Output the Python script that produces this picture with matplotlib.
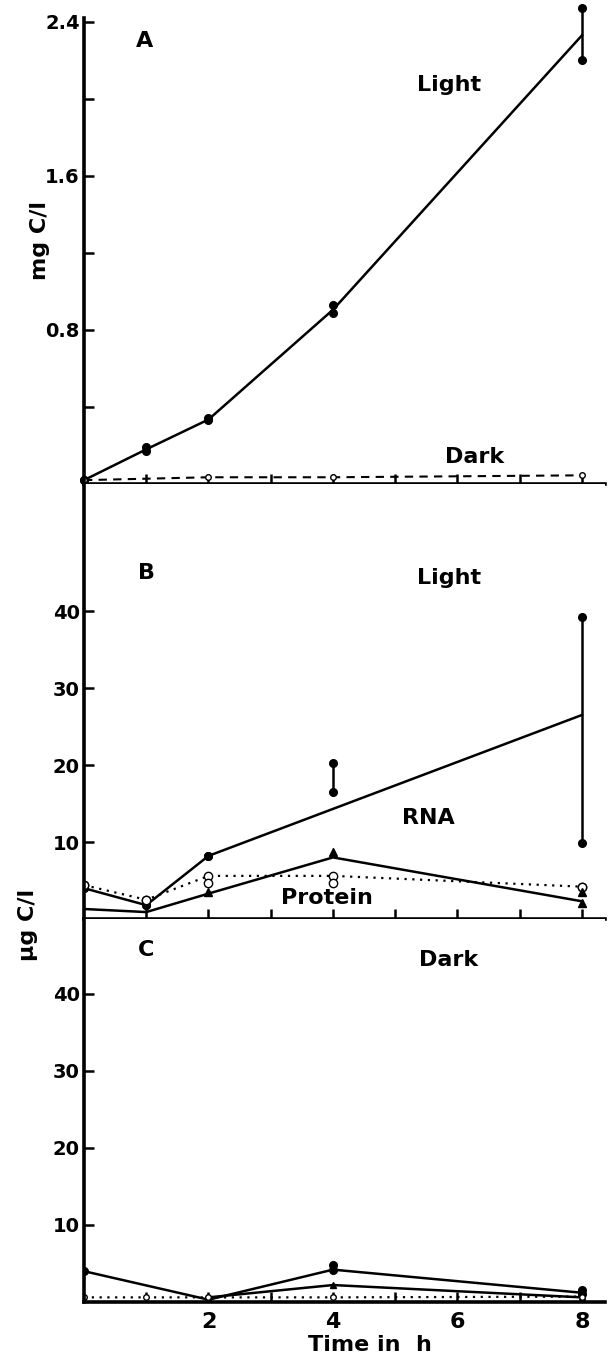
import numpy as np
import matplotlib
matplotlib.use('Agg')
import matplotlib.pyplot as plt

plt.rcParams['font.family'] = ['DejaVu Sans']
plt.rcParams['font.weight'] = 'bold'

# ---- data ----
hours = [0, 1, 2, 4, 8]

# panel A, mg C/l
a_light_line = [0.02, 0.18, 0.335, 0.905, 2.33]
a_light_rep1 = [0.02, 0.17, 0.33, 0.89, 2.20]
a_light_rep2 = [0.02, 0.19, 0.345, 0.93, 2.47]
a_dark_t = [0, 2, 4, 8]
a_dark = [0.02, 0.035, 0.035, 0.045]

# panel B, ug C/l, light
b_rna_line = [4.0, 1.8, 8.2, 14.3, 26.5]
b_rna_rep1 = [4.0, 1.8, 8.2, 16.5, 9.9]
b_rna_rep2 = [4.0, 1.8, 8.2, 20.3, 39.2]
b_prot = [4.4, 2.5, 5.6, 5.6, 4.2]
b_prot_rep = [4.4, 2.5, 4.7, 4.7, 4.2]
b_tri_line = [1.3, 0.9, 3.3, 8.0, 2.3]
b_tri_t = [2, 4, 8, 8]
b_tri = [3.5, 8.7, 3.5, 2.1]

# panel C, ug C/l, dark
c_rna_line = [4.0, None, 0.3, 4.2, 1.2]
c_rna_t = [0, 4, 4, 8, 8]
c_rna_pts = [4.0, 4.8, 4.2, 1.6, 1.0]
c_tri_t = [2, 4, 8]
c_tri = [0.6, 2.2, 0.6]
c_prot = [0.6, 0.6, 0.6, 0.6, 0.7]

W, H = 610, 1362
fig = plt.figure(figsize=(W / 100, H / 100), dpi=100)

def add_ax(top, bottom):
    left, right = 84, 605
    return fig.add_axes([left / W, 1 - bottom / H, (right - left) / W, (bottom - top) / H])

axA = add_ax(18, 484)
axB = add_ax(484, 919)
axC = add_ax(919, 1302)

lw = 1.8
ms = 5.5
for ax in (axA, axB, axC):
    ax.set_xlim(0, 8.37)
    for s in ('top', 'right'):
        ax.spines[s].set_visible(False)
    ax.spines['left'].set_linewidth(2.6)
    ax.spines['bottom'].set_linewidth(2.6)
    ax.set_xticks(range(1, 9))
    ax.tick_params(axis='both', direction='in', length=7, width=1.8, labelsize=14, pad=3)
    ax.tick_params(axis='x', labelbottom=False)

# panel A
axA.set_ylim(0, 2.42)
axA.set_yticks([0.4, 0.8, 1.2, 1.6, 2.0, 2.4])
axA.set_yticklabels(['', '0.8', '', '1.6', '', '2.4'])
axA.plot(hours, a_light_line, color='black', lw=lw, clip_on=False)
axA.plot(hours, a_light_rep1, 'o', color='black', ms=ms, clip_on=False)
axA.plot(hours, a_light_rep2, 'o', color='black', ms=ms, clip_on=False)
axA.vlines(8, a_light_rep1[-1], a_light_rep2[-1], color='black', lw=lw, clip_on=False)
axA.plot(a_dark_t, a_dark, color='black', lw=1.5, ls=(0, (4, 3)),
         marker='o', mfc='white', ms=4, mew=1)
axA.text(0.98, 2.30, 'A', fontsize=16, ha='center', va='center')
axA.text(5.86, 2.07, 'Light', fontsize=16, ha='center', va='center')
axA.text(6.27, 0.14, 'Dark', fontsize=16, ha='center', va='center')

# panel B
axB.set_ylim(0, 56.5)
axB.set_yticks([10, 20, 30, 40])
axB.plot(hours, b_rna_line, color='black', lw=lw)
axB.plot(hours, b_rna_rep1, 'o', color='black', ms=ms)
axB.plot(hours, b_rna_rep2, 'o', color='black', ms=ms)
axB.vlines([4, 8], [b_rna_rep1[3], b_rna_rep1[4]], [b_rna_rep2[3], b_rna_rep2[4]],
           color='black', lw=lw)
axB.plot(hours, b_prot, color='black', lw=1.6, ls=(0, (1, 2.5)),
         marker='o', mfc='white', ms=6, mew=1)
axB.plot(hours, b_prot_rep, 'o', color='black', mfc='white', ms=6, mew=1)
axB.plot(hours, b_tri_line, color='black', lw=lw)
axB.plot(b_tri_t, b_tri, '^', color='black', ms=6)
axB.text(1.0, 45, 'B', fontsize=16, ha='center', va='center')
axB.text(5.86, 44.3, 'Light', fontsize=16, ha='center', va='center')
axB.text(5.54, 13.1, 'RNA', fontsize=16, ha='center', va='center')
axB.text(3.9, 2.7, 'Protein', fontsize=16, ha='center', va='center')

# panel C
axC.set_ylim(0, 49.7)
axC.set_yticks([10, 20, 30, 40])
c_line = np.array([np.nan if v is None else v for v in c_rna_line], dtype=float)
mask = ~np.isnan(c_line)
axC.plot(np.array(hours)[mask], c_line[mask], color='black', lw=lw)
axC.plot(c_rna_t, c_rna_pts, 'o', color='black', ms=ms)
axC.plot(c_tri_t, c_tri, color='black', lw=lw, marker='^', ms=5)
axC.plot(hours, c_prot, color='black', lw=1.6, ls=(0, (1, 2.5)),
         marker='o', mfc='white', ms=4, mew=1)
axC.set_xticks(range(1, 9))
axC.set_xticklabels(['', '2', '', '4', '', '6', '', '8'])
axC.tick_params(axis='x', labelbottom=True, labelsize=16, pad=7)
axC.text(1.0, 45.7, 'C', fontsize=16, ha='center', va='center')
axC.text(5.86, 44.4, 'Dark', fontsize=16, ha='center', va='center')

fig.text(370 / W, 1 - 1345 / H, 'Time in  h', fontsize=16, ha='center', va='center')
fig.text(40 / W, 1 - 240 / H, 'mg C/l', fontsize=16, ha='center', va='center', rotation=90)
fig.text(28 / W, 1 - 925 / H, 'µg C/l', fontsize=16, ha='center', va='center', rotation=90)

fig.savefig('out.png', dpi=100)
